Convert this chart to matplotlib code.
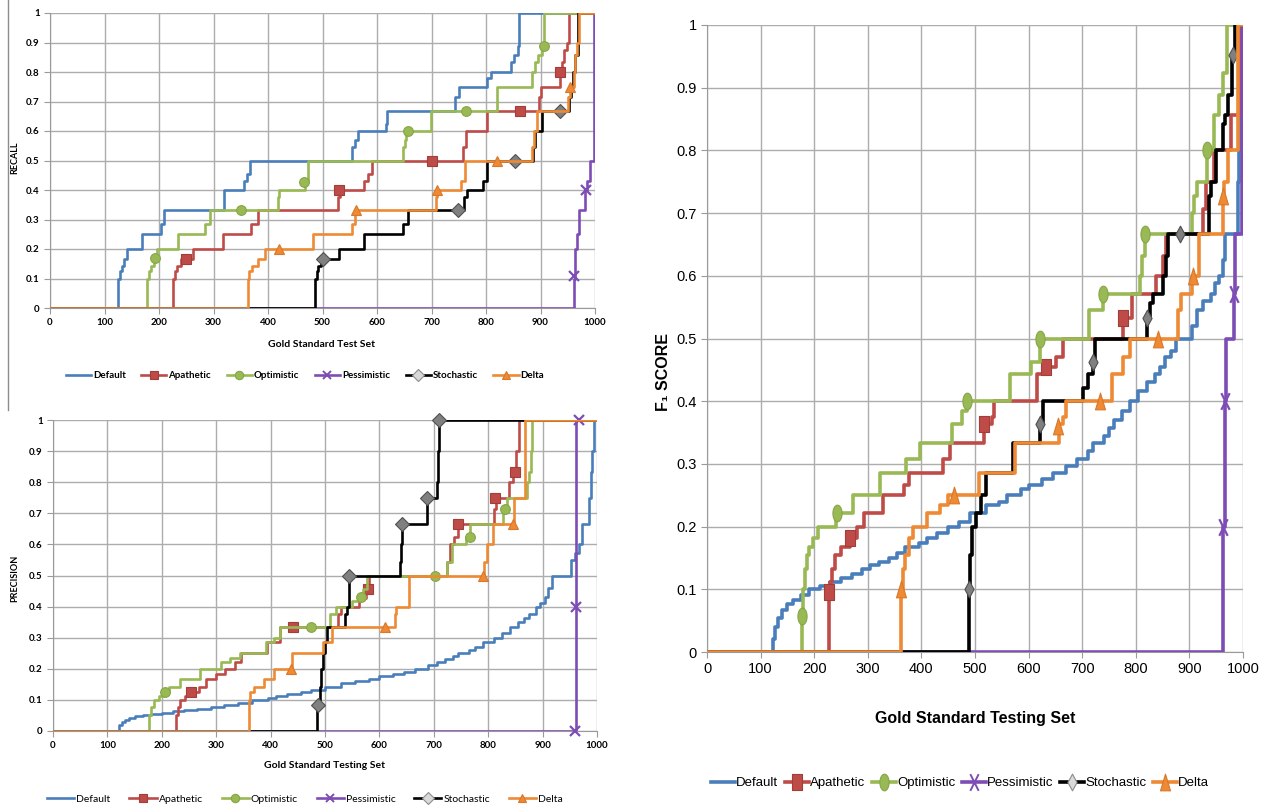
import matplotlib
matplotlib.use('Agg')
import matplotlib.pyplot as plt
from matplotlib.lines import Line2D
from matplotlib.path import Path
import numpy as np

# ---- data: step points (x, y) where y holds from x onward, plus marker points ----
names = ['Default', 'Apathetic', 'Optimistic', 'Pessimistic', 'Stochastic', 'Delta']

recall_default = [(0, 0), (125, 0.1), (128, 0.125), (132, 0.143), (136, 0.167), (142, 0.2), (168, 0.25),
                  (204, 0.286), (210, 0.333), (320, 0.4), (356, 0.429), (362, 0.455), (367, 0.5), (555, 0.545),
                  (560, 0.571), (566, 0.6), (616, 0.625), (618, 0.667), (743, 0.714), (751, 0.75), (801, 0.778),
                  (809, 0.8), (846, 0.833), (852, 0.857), (858, 0.889), (861, 1.0), (1000, 1.0)]
recall_apathetic = [(0, 0), (226, 0.1), (229, 0.125), (233, 0.143), (240, 0.167), (263, 0.2), (317, 0.25),
                    (369, 0.286), (381, 0.333), (529, 0.375), (532, 0.4), (576, 0.429), (583, 0.455), (590, 0.5),
                    (758, 0.545), (764, 0.6), (801, 0.667), (898, 0.714), (901, 0.75), (935, 0.8), (940, 0.833),
                    (944, 0.875), (948, 0.9), (953, 1.0), (1000, 1.0)]
recall_optimistic = [(0, 0), (178, 0.1), (181, 0.125), (185, 0.143), (190, 0.167), (196, 0.2), (234, 0.25),
                     (285, 0.286), (294, 0.333), (419, 0.375), (421, 0.4), (468, 0.429), (474, 0.5), (647, 0.545),
                     (651, 0.571), (654, 0.6), (699, 0.667), (821, 0.75), (885, 0.8), (890, 0.833), (896, 0.857),
                     (902, 0.889), (906, 1.0), (1000, 1.0)]
recall_pessimistic = [(0, 0), (961, 0.1), (964, 0.2), (967, 0.25), (971, 0.333), (981, 0.4), (985, 0.429),
                      (990, 0.5), (998, 1.0), (1000, 1.0)]
recall_stochastic = [(0, 0), (487, 0.1), (489, 0.125), (492, 0.143), (497, 0.167), (531, 0.2), (576, 0.25),
                     (648, 0.286), (657, 0.333), (759, 0.375), (766, 0.4), (794, 0.429), (802, 0.5), (886, 0.545),
                     (889, 0.6), (903, 0.667), (952, 0.714), (956, 0.75), (960, 0.8), (963, 0.857), (969, 1.0),
                     (1000, 1.0)]
recall_delta = [(0, 0), (363, 0.1), (366, 0.125), (370, 0.143), (381, 0.167), (394, 0.2), (482, 0.25),
                (555, 0.286), (560, 0.333), (709, 0.375), (711, 0.4), (754, 0.429), (762, 0.5), (884, 0.545),
                (888, 0.6), (893, 0.667), (951, 0.714), (954, 0.75), (961, 0.8), (964, 0.857), (967, 0.9),
                (970, 1.0), (1000, 1.0)]

recall_apathetic_marks = [(250, 0.167), (531, 0.4), (700, 0.5), (862, 0.667), (935, 0.8)]
recall_optimistic_marks = [(193, 0.169), (351, 0.333), (466, 0.428), (657, 0.6), (764, 0.667), (906, 0.888)]
recall_pessimistic_marks = [(961, 0.109), (984, 0.4)]
recall_stochastic_marks = [(500, 0.167), (748, 0.333), (854, 0.5), (936, 0.667)]
recall_delta_marks = [(421, 0.2), (561, 0.333), (711, 0.4), (820, 0.5), (954, 0.75)]

prec_default = [(0, 0), (122, 0.02), (126, 0.03), (132, 0.036), (140, 0.042), (150, 0.048), (165, 0.053),
                (180, 0.056), (200, 0.059), (220, 0.063), (240, 0.067), (265, 0.071), (290, 0.077), (315, 0.083),
                (340, 0.091), (365, 0.1), (395, 0.105), (410, 0.111), (430, 0.118), (455, 0.125), (475, 0.133),
                (500, 0.143), (530, 0.154), (555, 0.162), (580, 0.167), (600, 0.176), (625, 0.182), (645, 0.19),
                (665, 0.2), (690, 0.211), (705, 0.222), (720, 0.231), (735, 0.24), (745, 0.25), (765, 0.26),
                (775, 0.27), (790, 0.286), (810, 0.3), (825, 0.316), (840, 0.333), (855, 0.35), (865, 0.364),
                (875, 0.375), (888, 0.4), (895, 0.41), (905, 0.43), (910, 0.46), (918, 0.5), (953, 0.55),
                (960, 0.571), (966, 0.6), (973, 0.667), (986, 0.75), (989, 0.833), (991, 0.9), (994, 1.0),
                (1000, 1.0)]
prec_apathetic = [(0, 0), (226, 0.05), (229, 0.077), (233, 0.1), (243, 0.111), (252, 0.125), (268, 0.143),
                  (282, 0.167), (300, 0.182), (316, 0.2), (335, 0.222), (345, 0.25), (394, 0.286), (417, 0.333),
                  (524, 0.375), (530, 0.4), (562, 0.429), (575, 0.455), (580, 0.5), (725, 0.545), (730, 0.6),
                  (738, 0.625), (744, 0.667), (810, 0.714), (814, 0.75), (838, 0.8), (845, 0.833), (852, 0.9),
                  (856, 1.0), (1000, 1.0)]
prec_optimistic = [(0, 0), (176, 0.05), (180, 0.077), (186, 0.1), (195, 0.111), (203, 0.125), (214, 0.143),
                   (233, 0.167), (270, 0.2), (308, 0.222), (325, 0.235), (343, 0.25), (391, 0.286), (406, 0.3),
                   (417, 0.333), (510, 0.375), (520, 0.4), (550, 0.417), (560, 0.429), (570, 0.455), (578, 0.5),
                   (725, 0.545), (733, 0.6), (760, 0.625), (767, 0.667), (828, 0.714), (834, 0.75), (872, 0.8),
                   (875, 0.833), (878, 0.9), (881, 1.0), (1000, 1.0)]
prec_pessimistic = [(0, 0), (962, 1.0), (1000, 1.0)]
prec_stochastic = [(0, 0), (486, 0.083), (489, 0.1), (491, 0.143), (493, 0.2), (497, 0.25), (500, 0.286),
                   (503, 0.333), (536, 0.375), (540, 0.4), (545, 0.5), (637, 0.545), (639, 0.6), (641, 0.667),
                   (687, 0.75), (705, 0.8), (707, 0.9), (709, 1.0), (1000, 1.0)]
prec_delta = [(0, 0), (360, 0.1), (363, 0.125), (370, 0.143), (388, 0.167), (407, 0.2), (440, 0.25),
              (496, 0.286), (513, 0.333), (628, 0.375), (631, 0.4), (655, 0.5), (792, 0.545), (798, 0.6),
              (808, 0.667), (848, 0.75), (867, 1.0), (1000, 1.0)]

prec_apathetic_marks = [(254, 0.125), (441, 0.333), (579, 0.455), (745, 0.667), (813, 0.75), (850, 0.833)]
prec_optimistic_marks = [(205, 0.125), (475, 0.333), (567, 0.43), (703, 0.5), (767, 0.625), (830, 0.714)]
prec_pessimistic_marks = [(960, 0.0), (961, 0.4), (966, 1.0)]
prec_stochastic_marks = [(487, 0.083), (545, 0.5), (641, 0.667), (687, 0.75), (709, 1.0)]
prec_delta_marks = [(437, 0.2), (611, 0.333), (791, 0.5), (845, 0.667)]

f1_default = [(0, 0), (124, 0.02), (127, 0.04), (132, 0.055), (140, 0.067), (150, 0.077), (160, 0.083),
              (175, 0.091), (190, 0.1), (210, 0.105), (230, 0.111), (250, 0.118), (270, 0.125), (290, 0.133),
              (305, 0.138), (320, 0.143), (340, 0.15), (355, 0.158), (370, 0.167), (395, 0.174), (410, 0.182),
              (430, 0.19), (450, 0.2), (470, 0.208), (490, 0.222), (520, 0.235), (545, 0.24), (560, 0.25),
              (585, 0.26), (600, 0.267), (625, 0.276), (645, 0.286), (670, 0.296), (690, 0.308), (710, 0.32),
              (720, 0.333), (740, 0.345), (750, 0.357), (760, 0.37), (775, 0.385), (790, 0.4), (805, 0.417),
              (820, 0.43), (835, 0.444), (845, 0.455), (855, 0.471), (865, 0.48), (875, 0.5), (905, 0.52),
              (915, 0.545), (925, 0.56), (940, 0.571), (948, 0.588), (955, 0.6), (962, 0.625), (966, 0.667),
              (991, 0.75), (993, 0.8), (995, 0.9), (997, 1.0), (1000, 1.0)]
f1_apathetic = [(0, 0), (228, 0.095), (230, 0.111), (233, 0.133), (238, 0.154), (250, 0.167), (267, 0.182),
                (280, 0.2), (292, 0.222), (329, 0.25), (367, 0.267), (376, 0.286), (440, 0.308), (453, 0.333),
                (516, 0.364), (531, 0.375), (536, 0.4), (615, 0.444), (633, 0.455), (652, 0.471), (665, 0.5),
                (776, 0.533), (792, 0.571), (838, 0.6), (851, 0.632), (857, 0.667), (925, 0.706), (931, 0.75),
                (946, 0.8), (978, 0.857), (994, 1.0), (1000, 1.0)]
f1_optimistic = [(0, 0), (177, 0.057), (179, 0.1), (182, 0.133), (186, 0.154), (190, 0.167), (198, 0.182),
                 (208, 0.2), (240, 0.222), (273, 0.25), (322, 0.286), (372, 0.308), (397, 0.333), (458, 0.364),
                 (475, 0.385), (485, 0.4), (565, 0.444), (605, 0.462), (621, 0.5), (712, 0.545), (739, 0.571),
                 (808, 0.6), (812, 0.632), (817, 0.667), (904, 0.7), (909, 0.727), (915, 0.75), (932, 0.8),
                 (945, 0.857), (955, 0.889), (962, 0.923), (970, 1.0), (1000, 1.0)]
f1_pessimistic = [(0, 0), (962, 0.2), (966, 0.4), (968, 0.5), (983, 0.571), (986, 0.667), (998, 1.0),
                  (1000, 1.0)]
f1_stochastic = [(0, 0), (488, 0.1), (490, 0.154), (494, 0.2), (502, 0.222), (512, 0.25), (521, 0.286),
                 (571, 0.333), (621, 0.364), (626, 0.4), (702, 0.421), (710, 0.444), (720, 0.462), (724, 0.5),
                 (820, 0.533), (826, 0.556), (832, 0.571), (851, 0.6), (856, 0.632), (860, 0.667), (937, 0.727),
                 (941, 0.75), (950, 0.8), (963, 0.842), (966, 0.857), (972, 0.889), (979, 0.95), (985, 1.0),
                 (1000, 1.0)]
f1_delta = [(0, 0), (362, 0.1), (365, 0.133), (369, 0.154), (376, 0.182), (385, 0.2), (410, 0.222),
            (435, 0.235), (450, 0.25), (508, 0.286), (574, 0.333), (657, 0.364), (664, 0.375), (670, 0.4),
            (755, 0.444), (776, 0.471), (789, 0.5), (878, 0.545), (884, 0.571), (905, 0.6), (918, 0.667),
            (962, 0.727), (965, 0.75), (972, 0.8), (991, 1.0), (1000, 1.0)]

f1_apathetic_marks = [(228, 0.095), (267, 0.182), (516, 0.364), (633, 0.455), (776, 0.533)]
f1_optimistic_marks = [(177, 0.057), (243, 0.222), (485, 0.4), (621, 0.5), (739, 0.571), (817, 0.667),
                       (932, 0.8)]
f1_pessimistic_marks = [(962, 0.2), (967, 0.4), (984, 0.571)]
f1_stochastic_marks = [(488, 0.1), (621, 0.364), (720, 0.462), (820, 0.533), (882, 0.667), (981, 0.952)]
f1_delta_marks = [(362, 0.1), (460, 0.25), (655, 0.36), (733, 0.4), (841, 0.5), (907, 0.6), (963, 0.727)]

# ---- styles ----
colors = ['#4A7EBB', '#BE4B48', '#98B954', '#7D4DB5', '#000000', '#EE8A34']
mfaces = [None, '#BE4B48', '#98B954', 'none', '#808080', '#EE8A34']
medges = [None, '#A33D3A', '#86A547', '#7D4DB5', '#505050', '#D9772A']
markers = [None, 's', 'o', 'x', 'D', '^']


def tall(kind):
  # markers in the F1 chart look stretched vertically
  if kind == 'o':
    t = np.linspace(0, 2 * np.pi, 40)
    return Path(np.c_[0.55 * np.cos(t), np.sin(t)])
  if kind == 's':
    return Path([(-0.6, -1), (0.6, -1), (0.6, 1), (-0.6, 1), (-0.6, -1)], closed=True)
  if kind == 'D':
    return Path([(0, -1), (0.55, 0), (0, 1), (-0.55, 0), (0, -1)], closed=True)
  if kind == '^':
    return Path([(-0.6, -1), (0.6, -1), (0, 1), (-0.6, -1)], closed=True)
  if kind == 'x':
    return Path([(-0.5, -1), (0.5, 1), (-0.5, 1), (0.5, -1)],
                [Path.MOVETO, Path.LINETO, Path.MOVETO, Path.LINETO])
  return kind


def draw(ax, series, marks, lw, ms, stretched=False):
  for i, pts in enumerate(series):
    xs, ys = zip(*pts)
    ax.plot(xs, ys, drawstyle='steps-post', color=colors[i], lw=lw, zorder=3 + i)
    if marks[i]:
      mx, my = zip(*marks[i])
      m = tall(markers[i]) if stretched else markers[i]
      ax.plot(mx, my, ls='none', marker=m, ms=ms, mfc=mfaces[i], mec=medges[i],
              mew=1.6 if markers[i] == 'x' else 0.8, zorder=3 + i, clip_on=False)


def style(ax, fs, family, weight):
  ax.set_xlim(0, 1000)
  ax.set_ylim(0, 1)
  ax.set_xticks(range(0, 1001, 100))
  ax.set_yticks([i / 10 for i in range(11)])
  ax.set_yticklabels(['0'] + ['0.%d' % i for i in range(1, 10)] + ['1'])
  ax.grid(True, color='#ADADAD', lw=1.0)
  ax.set_axisbelow(True)
  for s in ['top', 'right']:
    ax.spines[s].set_visible(False)
  for s in ['left', 'bottom']:
    ax.spines[s].set_color('#9A9A9A')
  ax.tick_params(colors='#9A9A9A', length=4, labelcolor='black', labelsize=fs)
  for lab in ax.get_xticklabels() + ax.get_yticklabels():
    lab.set_family(family)
    lab.set_weight(weight)


def handles(lw, ms, stretched=False):
  hs = []
  for i in range(6):
    m = markers[i]
    if m is not None and stretched:
      m = tall(m)
    mfc = '#D9D9D9' if i == 4 else mfaces[i]
    hs.append(Line2D([], [], color=colors[i], lw=lw, marker=m, ms=ms, mfc=mfc,
                     mec='#8C8C8C' if i == 4 else medges[i], mew=1.4 if markers[i] == 'x' else 0.8))
  return hs


fig = plt.figure(figsize=(12.68, 8.07), dpi=100)
W, H = 1268.0, 807.0

small_font = ['Lato', 'DejaVu Sans']
big_font = ['Liberation Sans', 'DejaVu Sans']

# recall
ax1 = fig.add_axes([50 / W, 1 - 308 / H, 545 / W, 295 / H])
style(ax1, 7, small_font, 'bold')
draw(ax1, [recall_default, recall_apathetic, recall_optimistic, recall_pessimistic, recall_stochastic, recall_delta],
     [None, recall_apathetic_marks, recall_optimistic_marks, recall_pessimistic_marks, recall_stochastic_marks,
      recall_delta_marks], 1.9, 7)
fig.text(15 / W, 1 - 158 / H, 'RECALL', rotation=90, ha='center', va='center', fontsize=6.5,
         weight='bold', family=small_font)
fig.text(322 / W, 1 - 345 / H, 'Gold Standard Test Set', ha='center', va='center', fontsize=7.5,
         weight='bold', family=small_font)
fig.legend(handles(1.9, 6), names, loc='center', bbox_to_anchor=(305 / W, 1 - 376 / H), ncol=6,
           frameon=False, prop={'family': small_font, 'weight': 'bold', 'size': 7}, handlelength=2.6,
           handletextpad=0.2, columnspacing=1.6)

# precision
ax2 = fig.add_axes([53 / W, 1 - 731 / H, 544 / W, 311 / H])
style(ax2, 7, small_font, 'bold')
draw(ax2, [prec_default, prec_apathetic, prec_optimistic, prec_pessimistic, prec_stochastic, prec_delta],
     [None, prec_apathetic_marks, prec_optimistic_marks, prec_pessimistic_marks, prec_stochastic_marks,
      prec_delta_marks], 1.9, 7)
fig.text(15 / W, 1 - 578 / H, 'PRECISION', rotation=90, ha='center', va='center', fontsize=6.5,
         weight='bold', family=small_font)
fig.text(325 / W, 1 - 766 / H, 'Gold Standard Testing Set', ha='center', va='center', fontsize=7.5,
         weight='bold', family=small_font)
fig.legend(handles(1.9, 6), names, loc='center', bbox_to_anchor=(305 / W, 1 - 799 / H), ncol=6,
           frameon=False, prop={'family': small_font, 'size': 7.5}, handlelength=2.6,
           handletextpad=0.2, columnspacing=1.8)

# F1 score
ax3 = fig.add_axes([707 / W, 1 - 652 / H, 536 / W, 627 / H])
style(ax3, 10.5, big_font, 'normal')
draw(ax3, [f1_default, f1_apathetic, f1_optimistic, f1_pessimistic, f1_stochastic, f1_delta],
     [None, f1_apathetic_marks, f1_optimistic_marks, f1_pessimistic_marks, f1_stochastic_marks,
      f1_delta_marks], 2.6, 12, stretched=True)
fig.text(664 / W, 1 - 372 / H, 'F\u2081 SCORE', rotation=90, ha='center', va='center', fontsize=11.5,
         weight='bold', family=big_font)
fig.text(975 / W, 1 - 718 / H, 'Gold Standard Testing Set', ha='center', va='center', fontsize=11.5,
         weight='bold', family=big_font)
fig.legend(handles(2.6, 12, stretched=True), names, loc='center', bbox_to_anchor=(960 / W, 1 - 783 / H),
           ncol=6, frameon=False, prop={'family': big_font, 'size': 9.5}, handlelength=1.8,
           handletextpad=0.1, columnspacing=0.5)

# thin frame line on the far left of the top chart
fig.add_artist(Line2D([8 / W, 8 / W], [1 - 410 / H, 1.0], transform=fig.transFigure, color='#8C8C8C', lw=1))

fig.savefig('out.png', dpi=100)
